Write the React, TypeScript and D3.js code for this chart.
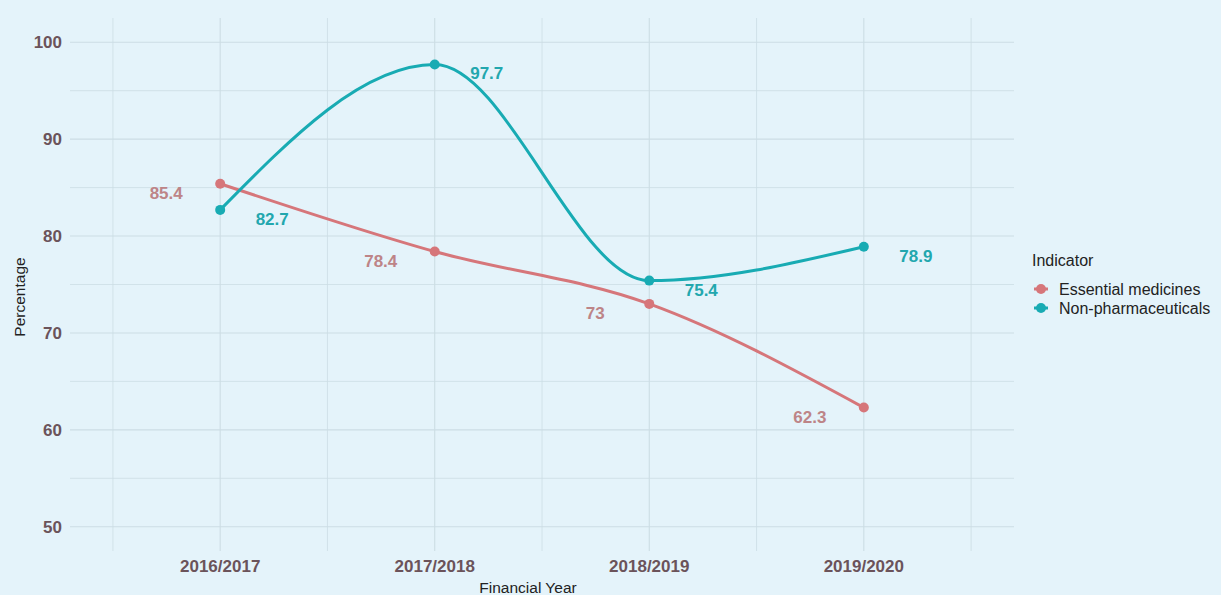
import * as d3 from 'd3';

const years = ['2016/2017', '2017/2018', '2018/2019', '2019/2020'];
const essential = [85.4, 78.4, 73, 62.3];
const nonPharma = [82.7, 97.7, 75.4, 78.9];
const yTicks = [50, 60, 70, 80, 90, 100];
const seriesNames = ['Essential medicines', 'Non-pharmaceuticals'];

const W = 1221;
const H = 595;
const panel = { left: 70, right: 1014, top: 18, bottom: 551 };
const bg = '#e4f3fa';
const grid = '#ccdde4';
const tickColor = '#6b535a';
const lineColors = ['#d6767a', '#18abb3'];
const labelColors = ['#bd8487', '#22a7ae'];
const font = '"Liberation Sans", Arial, sans-serif';

export default function App() {
    const x = d3.scalePoint<string>()
        .domain(years)
        .range([panel.left, panel.right])
        .padding(0.7);
    const y = d3.scaleLinear()
        .domain([47.5, 102.5])
        .range([panel.bottom, panel.top]);

    const step = x.step();
    const minorX = [...years.map(d => (x(d) || 0) - step / 2), (x(years[years.length - 1]) || 0) + step / 2];
    const minorY = yTicks.slice(0, -1).map(d => d + 5);

    const line = d3.line<number>()
        .x((_, i) => x(years[i]) || 0)
        .y(d => y(d))
        .curve(d3.curveMonotoneX);

    const series = [essential, nonPharma];

    return (
        <div style={{ position: 'absolute', left: 0, top: 0 }}>
            <svg width={W} height={H} style={{ display: 'block', fontFamily: font }}>
                <rect width={W} height={H} fill={bg} />

                {/* grid */}
                {minorY.map(v => (
                    <line key={'my' + v} x1={panel.left} x2={panel.right} y1={y(v)} y2={y(v)} stroke={grid} strokeWidth={0.8} />
                ))}
                {yTicks.map(v => (
                    <line key={'y' + v} x1={panel.left} x2={panel.right} y1={y(v)} y2={y(v)} stroke={grid} strokeWidth={1.1} />
                ))}
                {minorX.map((v, i) => (
                    <line key={'mx' + i} x1={v} x2={v} y1={panel.top} y2={panel.bottom} stroke={grid} strokeWidth={0.8} />
                ))}
                {years.map(d => (
                    <line key={'x' + d} x1={x(d)} x2={x(d)} y1={panel.top} y2={panel.bottom} stroke={grid} strokeWidth={1.1} />
                ))}

                {/* axes text */}
                {yTicks.map(v => (
                    <text key={'yt' + v} x={62} y={y(v)} dy="0.35em" textAnchor="end" fontSize={17} fontWeight="bold" fill={tickColor}>{v}</text>
                ))}
                {years.map(d => (
                    <text key={'xt' + d} x={x(d)} y={566} dy="0.35em" textAnchor="middle" fontSize={17} fontWeight="bold" fill={tickColor}>{d}</text>
                ))}
                <text x={528} y={588} dy="0.35em" textAnchor="middle" fontSize={15.5} fill="#222">Financial Year</text>
                <text transform="translate(20,297) rotate(-90)" dy="0.35em" textAnchor="middle" fontSize={15.5} fill="#222">Percentage</text>

                {/* lines */}
                {series.map((s, k) => (
                    <path key={'l' + k} d={line(s) || ''} fill="none" stroke={lineColors[k]} strokeWidth={3} />
                ))}
                {series.map((s, k) => s.map((v, i) => (
                    <circle key={'p' + k + i} cx={x(years[i])} cy={y(v)} r={5} fill={lineColors[k]} />
                )))}
                {series.map((s, k) => s.map((v, i) => (
                    <text key={'t' + k + i} x={(x(years[i]) || 0) + (k === 0 ? -54 : 52)} y={y(v) + 9} dy="0.35em"
                        textAnchor="middle" fontSize={17} fontWeight="bold" fill={labelColors[k]}>{v}</text>
                )))}

                {/* legend */}
                <text x={1032} y={260} dy="0.35em" fontSize={16} fill="#222">Indicator</text>
                {seriesNames.map((n, k) => (
                    <g key={'lg' + k} transform={`translate(1034,${289 + k * 19})`}>
                        <line x1={0} x2={14} y1={0} y2={0} stroke={lineColors[k]} strokeWidth={3} />
                        <circle cx={7} cy={0} r={5} fill={lineColors[k]} />
                        <text x={25} y={0} dy="0.35em" fontSize={16} fill="#222">{n}</text>
                    </g>
                ))}
            </svg>
        </div>
    );
}
